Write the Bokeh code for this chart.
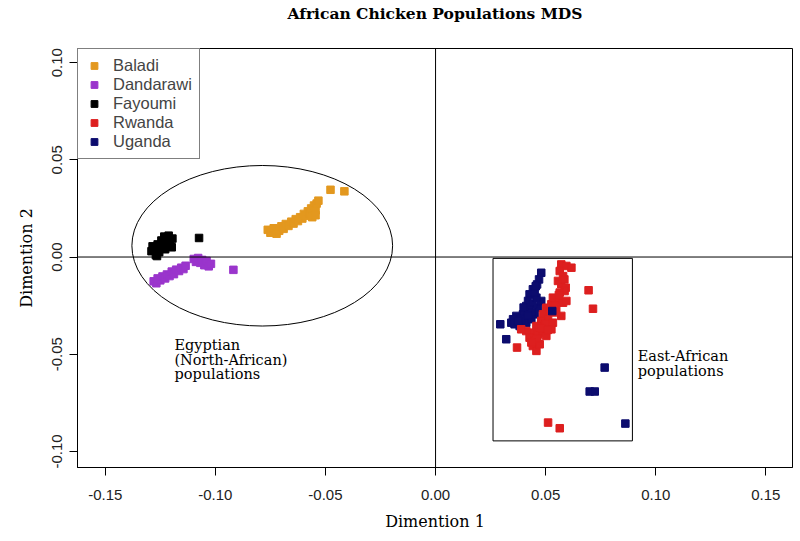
from bokeh.plotting import figure
from bokeh.models import (Range1d, FixedTicker, Span, Legend, LegendItem, Label, LinearAxis)
from bokeh.embed import file_html
from bokeh.resources import INLINE

# ---------------- data ----------------
title_text = "African Chicken Populations MDS"
x_label = "Dimention 1"
y_label = "Dimention 2"

x_ticks = [-0.15, -0.10, -0.05, 0.00, 0.05, 0.10, 0.15]
x_tick_labels = ["-0.15", "-0.10", "-0.05", "0.00", "0.05", "0.10", "0.15"]
y_ticks = [-0.10, -0.05, 0.00, 0.05, 0.10]
y_tick_labels = ["-0.10", "-0.05", "0.00", "0.05", "0.10"]

populations = ["Baladi", "Dandarawi", "Fayoumi", "Rwanda", "Uganda"]
colors = ["#E3981F", "#9A35CC", "#000000", "#DD1F1F", "#0C0C6E"]

baladi_x = [-0.0762, -0.0750, -0.0735, -0.0722, -0.0710, -0.0700, -0.0690, -0.0680, -0.0668,
            -0.0655, -0.0645, -0.0635, -0.0625, -0.0615, -0.0605, -0.0598, -0.0590, -0.0580,
            -0.0572, -0.0565, -0.0560, -0.0552, -0.0545, -0.0540, -0.0532, -0.0545, -0.0477, -0.0414]
baladi_y = [0.0140, 0.0125, 0.0148, 0.0120, 0.0135, 0.0158, 0.0145, 0.0170, 0.0160,
            0.0182, 0.0172, 0.0195, 0.0185, 0.0205, 0.0198, 0.0222, 0.0212, 0.0235,
            0.0225, 0.0250, 0.0205, 0.0265, 0.0240, 0.0275, 0.0290, 0.0215, 0.0346, 0.0338]

dandarawi_x = [-0.1280, -0.1268, -0.1262, -0.1250, -0.1240, -0.1228, -0.1220, -0.1208, -0.1198,
               -0.1188, -0.1178, -0.1165, -0.1155, -0.1145, -0.1135, -0.1098, -0.1088, -0.1078,
               -0.1068, -0.1060, -0.1050, -0.1040, -0.1030, -0.1020, -0.0918]
dandarawi_y = [-0.0125, -0.0135, -0.0110, -0.0120, -0.0100, -0.0110, -0.0090, -0.0098, -0.0075,
               -0.0088, -0.0065, -0.0072, -0.0055, -0.0062, -0.0045, -0.0010, -0.0025, -0.0005,
               -0.0030, -0.0015, -0.0042, -0.0020, -0.0048, -0.0035, -0.0066]

fayoumi_x = [-0.1290, -0.1285, -0.1275, -0.1270, -0.1262, -0.1255, -0.1250, -0.1245, -0.1238,
             -0.1232, -0.1228, -0.1222, -0.1218, -0.1212, -0.1205, -0.1198, -0.1195, -0.1265, -0.1074]
fayoumi_y = [0.0030, 0.0055, 0.0040, 0.0010, 0.0065, 0.0025, 0.0050, 0.0085, 0.0070,
             0.0105, 0.0040, 0.0090, 0.0060, 0.0110, 0.0075, 0.0050, 0.0095, 0.0005, 0.0098]

uganda_x = [0.0480, 0.0470, 0.0461, 0.0442, 0.0427, 0.0420, 0.0412, 0.0405, 0.0397, 0.0367,
            0.0352, 0.0344, 0.0359, 0.0382, 0.0412, 0.0435, 0.0450, 0.0465, 0.0480, 0.0442,
            0.0427, 0.0458, 0.0389, 0.0374, 0.0435, 0.0450, 0.0400, 0.0420, 0.0455,
            0.0294, 0.0321, 0.0768, 0.0700, 0.0723, 0.0862]
uganda_y = [-0.0081, -0.0115, -0.0141, -0.0166, -0.0192, -0.0226, -0.0252, -0.0278, -0.0295, -0.0303,
            -0.0320, -0.0338, -0.0346, -0.0355, -0.0338, -0.0320, -0.0295, -0.0261, -0.0226, -0.0243,
            -0.0269, -0.0209, -0.0320, -0.0329, -0.0286, -0.0183, -0.0260, -0.0300, -0.0150,
            -0.0346, -0.0423, -0.0569, -0.0692, -0.0692, -0.0857]

rwanda_x = [0.0571, 0.0594, 0.0617, 0.0564, 0.0579, 0.0556, 0.0571, 0.0591, 0.0586, 0.0564,
            0.0533, 0.0556, 0.0579, 0.0594, 0.0526, 0.0503, 0.0548, 0.0571, 0.0488, 0.0511,
            0.0480, 0.0533, 0.0458, 0.0495, 0.0526, 0.0442, 0.0465, 0.0488, 0.0412, 0.0427,
            0.0450, 0.0442, 0.0458, 0.0473, 0.0503, 0.0389,
            0.0545, 0.0520, 0.0500, 0.0478, 0.0462, 0.0510, 0.0540, 0.0585, 0.0560, 0.0435,
            0.0695, 0.0715, 0.0370, 0.0511, 0.0564]
rwanda_y = [-0.0038, -0.0046, -0.0055, -0.0072, -0.0098, -0.0123, -0.0140, -0.0158, -0.0175, -0.0183,
            -0.0209, -0.0226, -0.0235, -0.0226, -0.0243, -0.0261, -0.0269, -0.0303, -0.0295, -0.0320,
            -0.0329, -0.0338, -0.0355, -0.0355, -0.0372, -0.0389, -0.0398, -0.0389, -0.0381, -0.0415,
            -0.0432, -0.0458, -0.0483, -0.0449, -0.0406, -0.0372,
            -0.0285, -0.0280, -0.0345, -0.0365, -0.0420, -0.0375, -0.0250, -0.0115, -0.0195, -0.0440,
            -0.0171, -0.0266, -0.0466, -0.0852, -0.0881]

uganda_extra_x = [0.0530]
uganda_extra_y = [-0.0278]

# grouping ellipse (Egyptian) and box (East-African), data units
ellipse_cx, ellipse_cy, ellipse_w, ellipse_h = -0.0787, 0.0058, 0.1184, 0.0826
box_left, box_right, box_top, box_bottom = 0.0261, 0.0894, -0.0007, -0.0946

egypt_lines = ["Egyptian", "(North-African)", "populations"]
egypt_x = -0.1186
egypt_y = [-0.0452, -0.0528, -0.0604]
east_lines = ["East-African", "populations"]
east_x = 0.0918
east_y = [-0.0509, -0.0586]

X_RANGE = (-0.1626, 0.1621)
Y_RANGE = (-0.1083, 0.1073)

# ---------------- figure ----------------
p = figure(width=800, height=541, output_backend="svg", toolbar_location=None, title=None,
           x_range=Range1d(*X_RANGE), y_range=Range1d(*Y_RANGE),
           min_border_left=77, min_border_right=8, min_border_top=47, min_border_bottom=74)

p.background_fill_color = "white"
p.border_fill_color = "white"
p.outline_line_color = "black"
p.outline_line_width = 1
p.xgrid.visible = False
p.ygrid.visible = False

xaxis = p.below[0]
yaxis = p.left[0]
for ax, ticks, labels in ((xaxis, x_ticks, x_tick_labels), (yaxis, y_ticks, y_tick_labels)):
    ax.ticker = FixedTicker(ticks=ticks)
    ax.major_label_overrides = {t: l for t, l in zip(ticks, labels)}
    ax.minor_tick_line_color = None
    ax.major_tick_in = 0
    ax.major_tick_out = 8
    ax.major_tick_line_color = "black"
    ax.axis_line_color = "black"
    ax.major_label_text_font = "Liberation Sans"
    ax.major_label_text_font_size = "15px"
    ax.major_label_text_color = "#222222"
    ax.axis_label_text_font = "DejaVu Serif"
    ax.axis_label_text_font_size = "16px"
    ax.axis_label_text_font_style = "normal"
    ax.axis_label_text_color = "black"

xaxis.axis_label = x_label
yaxis.axis_label = y_label
xaxis.major_label_standoff = 14
xaxis.axis_label_standoff = 9
yaxis.major_label_orientation = "vertical"
yaxis.major_label_standoff = 7
yaxis.axis_label_standoff = 14

# title as the label of a bare axis above the frame
title_axis = LinearAxis(axis_label=title_text, ticker=FixedTicker(ticks=[]),
                        axis_line_color=None, major_tick_line_color=None, minor_tick_line_color=None,
                        major_tick_in=0, major_tick_out=0, major_label_standoff=0,
                        major_label_text_font_size="1px",
                        axis_label_standoff=26, axis_label_text_font="DejaVu Serif",
                        axis_label_text_font_style="bold", axis_label_text_font_size="15.5px",
                        axis_label_text_color="black")
p.add_layout(title_axis, "above")

# reference lines
p.add_layout(Span(location=0, dimension="width", line_color="black", line_width=1))
p.add_layout(Span(location=0, dimension="height", line_color="black", line_width=1))

# ellipse & box
p.ellipse(x=[ellipse_cx], y=[ellipse_cy], width=[ellipse_w], height=[ellipse_h],
          fill_color=None, line_color="black", line_width=1)
p.quad(left=[box_left], right=[box_right], top=[box_top], bottom=[box_bottom],
       fill_color=None, line_color="black", line_width=1)

# points
msize = 7.5
series = [(baladi_x, baladi_y), (dandarawi_x, dandarawi_y), (fayoumi_x, fayoumi_y)]
renderers = {}
for name, col, (xs, ys) in zip(populations[:3], colors[:3], series):
    renderers[name] = p.scatter(xs, ys, marker="square", size=msize, fill_color=col, line_color=col)
renderers["Uganda"] = p.scatter(uganda_x, uganda_y, marker="square", size=msize,
                                fill_color=colors[4], line_color=colors[4])
renderers["Rwanda"] = p.scatter(rwanda_x, rwanda_y, marker="square", size=msize,
                                fill_color=colors[3], line_color=colors[3])
p.scatter(uganda_extra_x, uganda_extra_y, marker="square", size=msize,
          fill_color=colors[4], line_color=colors[4])

# annotations
for txt, yy in zip(egypt_lines, egypt_y):
    p.add_layout(Label(x=egypt_x, y=yy, text=txt, text_font="DejaVu Serif",
                       text_font_size="14.5px", text_baseline="alphabetic", text_color="black"))
for txt, yy in zip(east_lines, east_y):
    p.add_layout(Label(x=east_x, y=yy, text=txt, text_font="DejaVu Serif",
                       text_font_size="14.5px", text_baseline="alphabetic", text_color="black"))

legend = Legend(items=[LegendItem(label=n, renderers=[renderers[n]]) for n in populations],
                location="top_left", margin=0, padding=7, spacing=0,
                glyph_width=18, glyph_height=17, label_height=17, label_standoff=10,
                label_text_font="Liberation Sans", label_text_font_size="16.5px",
                label_text_baseline="middle",
                border_line_color="black", border_line_width=1,
                background_fill_color="white", background_fill_alpha=1)
p.add_layout(legend)

open("out.html", "w").write(file_html(p, INLINE))
